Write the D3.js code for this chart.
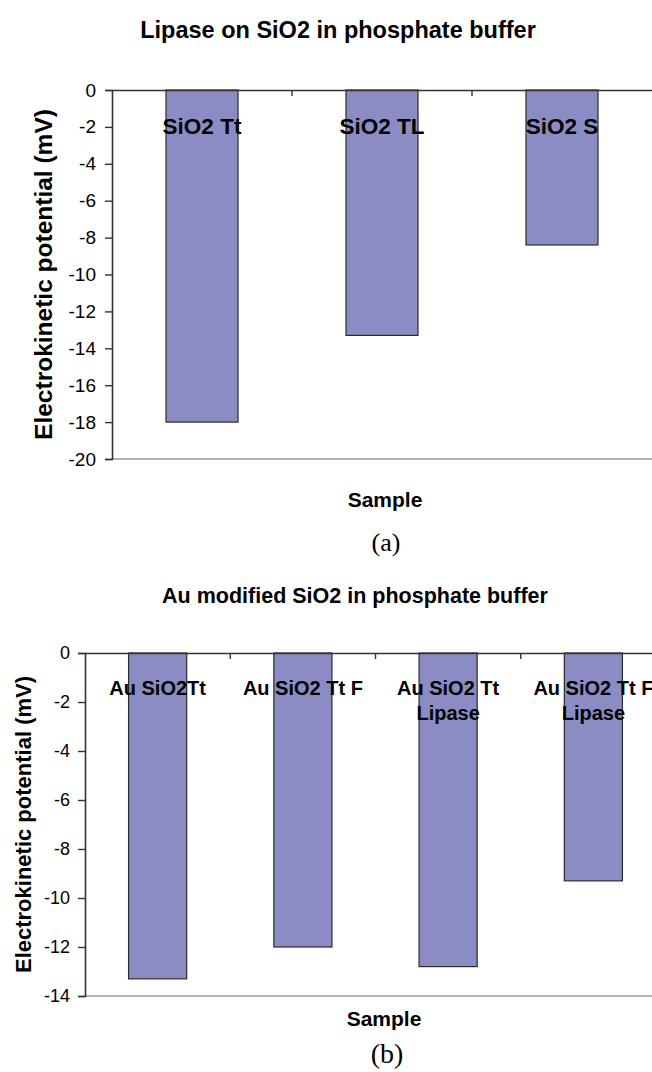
<!DOCTYPE html>
<html>
<head>
<meta charset="utf-8">
<script src="https://cdn.jsdelivr.net/npm/d3@7"></script>
<style>
  html, body { margin: 0; padding: 0; background: #fff; }
  svg { display: block; }
  text { font-family: "Liberation Sans", Arial, sans-serif; fill: #000; }
  .serif { font-family: "Liberation Serif", "Times New Roman", serif; }
</style>
</head>
<body>
<svg id="fig" width="652" height="1072"></svg>
<script>
// Panel (a): lipase on SiO2
const categoriesA = ["SiO2 Tt", "SiO2 TL", "SiO2 S"];
const labelLinesA = [["SiO2 Tt"], ["SiO2 TL"], ["SiO2 S"]];
const valuesA = [-18.0, -13.3, -8.4];
const ticksA = [0, -2, -4, -6, -8, -10, -12, -14, -16, -18, -20];

// Panel (b): Au modified SiO2
const categoriesB = ["Au SiO2Tt", "Au SiO2 Tt F", "Au SiO2 Tt Lipase", "Au SiO2 Tt F Lipase"];
const labelLinesB = [["Au SiO2Tt"], ["Au SiO2 Tt F"], ["Au SiO2 Tt", "Lipase"], ["Au SiO2 Tt F", "Lipase"]];
const valuesB = [-13.3, -12.0, -12.8, -9.3];
const ticksB = [0, -2, -4, -6, -8, -10, -12, -14];

const BAR_FILL = "#8c8cc5";
const svg = d3.select("#fig");

function drawPanel(p) {
  const g = svg.append("g");
  const x = d3.scaleBand()
    .domain(p.categories)
    .range([p.left, p.right])
    .paddingInner(0.6)
    .paddingOuter(0.3);
  const y = d3.scaleLinear()
    .domain([d3.min(p.ticks), 0])
    .range([p.bottom, p.top]);

  // chart title
  g.append("text")
    .attr("x", p.titleX).attr("y", p.titleY)
    .attr("text-anchor", "middle")
    .style("font-weight", "bold").style("font-size", p.titleSize + "px")
    .text(p.title);

  // plot-area lower border
  g.append("line")
    .attr("x1", p.left).attr("x2", p.right)
    .attr("y1", y(d3.min(p.ticks))).attr("y2", y(d3.min(p.ticks)))
    .attr("stroke", "#9a9a9a").attr("stroke-width", 1.6);

  // bars
  g.selectAll("rect.bar")
    .data(p.values)
    .join("rect")
    .attr("class", "bar")
    .attr("x", (d, i) => x(p.categories[i]))
    .attr("width", x.bandwidth())
    .attr("y", y(0))
    .attr("height", d => y(d) - y(0))
    .attr("fill", BAR_FILL)
    .attr("stroke", "#2a2a2a")
    .attr("stroke-width", 1.2);

  // value axis (plain hyphen for negatives)
  const yAxis = d3.axisLeft(y)
    .tickValues(p.ticks)
    .tickSize(7)
    .tickPadding(p.tickPad)
    .tickFormat(d => String(d));
  const ya = g.append("g")
    .attr("transform", `translate(${p.left},0)`)
    .call(yAxis);
  ya.select(".domain").attr("stroke", "#333").attr("stroke-width", 1.6);
  ya.selectAll(".tick line").attr("stroke", "#333").attr("stroke-width", 1.4);
  ya.selectAll(".tick text")
    .style("font-family", '"Liberation Sans", Arial, sans-serif')
    .style("font-size", p.tickSize + "px")
    .attr("fill", "#000");

  // category axis along zero
  const xAxis = d3.axisBottom(x).tickSize(0).tickFormat("");
  const xa = g.append("g")
    .attr("transform", `translate(0,${y(0)})`)
    .call(xAxis);
  xa.select(".domain").attr("stroke", "#333").attr("stroke-width", 1.6);
  xa.selectAll(".tick").remove();
  const step = x.step();
  const bounds = d3.range(1, p.categories.length).map(i => p.left + i * step);
  xa.selectAll("line.cat-tick")
    .data(bounds)
    .join("line")
    .attr("class", "cat-tick")
    .attr("x1", d => d).attr("x2", d => d)
    .attr("y1", 0).attr("y2", 6)
    .attr("stroke", "#333").attr("stroke-width", 1.4);

  // category labels drawn inside the plot
  const lab = g.selectAll("text.cat")
    .data(p.labelLines)
    .join("text")
    .attr("class", "cat")
    .attr("text-anchor", "middle")
    .style("font-weight", "bold")
    .style("font-size", p.labelSize + "px");
  lab.each(function (lines, i) {
    const cx = x(p.categories[i]) + x.bandwidth() / 2;
    d3.select(this).selectAll("tspan")
      .data(lines)
      .join("tspan")
      .attr("x", cx)
      .attr("y", (d, j) => y(0) + p.labelOffset + j * p.labelLine)
      .text(d => d);
  });

  // axis titles
  g.append("text")
    .attr("transform", `translate(${p.yTitleX},${(y(0) + y(d3.min(p.ticks))) / 2}) rotate(-90)`)
    .attr("text-anchor", "middle")
    .style("font-weight", "bold").style("font-size", p.yTitleSize + "px")
    .text("Electrokinetic potential (mV)");
  g.append("text")
    .attr("x", p.xTitleX).attr("y", p.xTitleY)
    .attr("text-anchor", "middle")
    .style("font-weight", "bold").style("font-size", p.xTitleSize + "px")
    .text("Sample");

  // panel tag
  g.append("text")
    .attr("class", "serif")
    .attr("x", p.tagX).attr("y", p.tagY)
    .attr("text-anchor", "middle")
    .style("font-size", p.tagSize + "px")
    .text(p.tag);
}

drawPanel({
  title: "Lipase on SiO2 in phosphate buffer", titleX: 338, titleY: 38, titleSize: 23.5,
  categories: categoriesA, labelLines: labelLinesA, values: valuesA, ticks: ticksA,
  left: 112, right: 652, top: 90, bottom: 459,
  tickSize: 19, tickPad: 9,
  labelSize: 22.5, labelOffset: 44, labelLine: 25,
  yTitleX: 52, yTitleSize: 24.5,
  xTitleX: 385, xTitleY: 507, xTitleSize: 21,
  tag: "(a)", tagX: 386, tagY: 551, tagSize: 26
});

drawPanel({
  title: "Au modified SiO2 in phosphate buffer", titleX: 355, titleY: 603, titleSize: 21.5,
  categories: categoriesB, labelLines: labelLinesB, values: valuesB, ticks: ticksB,
  left: 85, right: 666, top: 653, bottom: 996,
  tickSize: 18, tickPad: 8,
  labelSize: 20, labelOffset: 42, labelLine: 25,
  yTitleX: 31, yTitleSize: 22,
  xTitleX: 384, xTitleY: 1026, xTitleSize: 21,
  tag: "(b)", tagX: 387, tagY: 1063, tagSize: 28
});
</script>
</body>
</html>
